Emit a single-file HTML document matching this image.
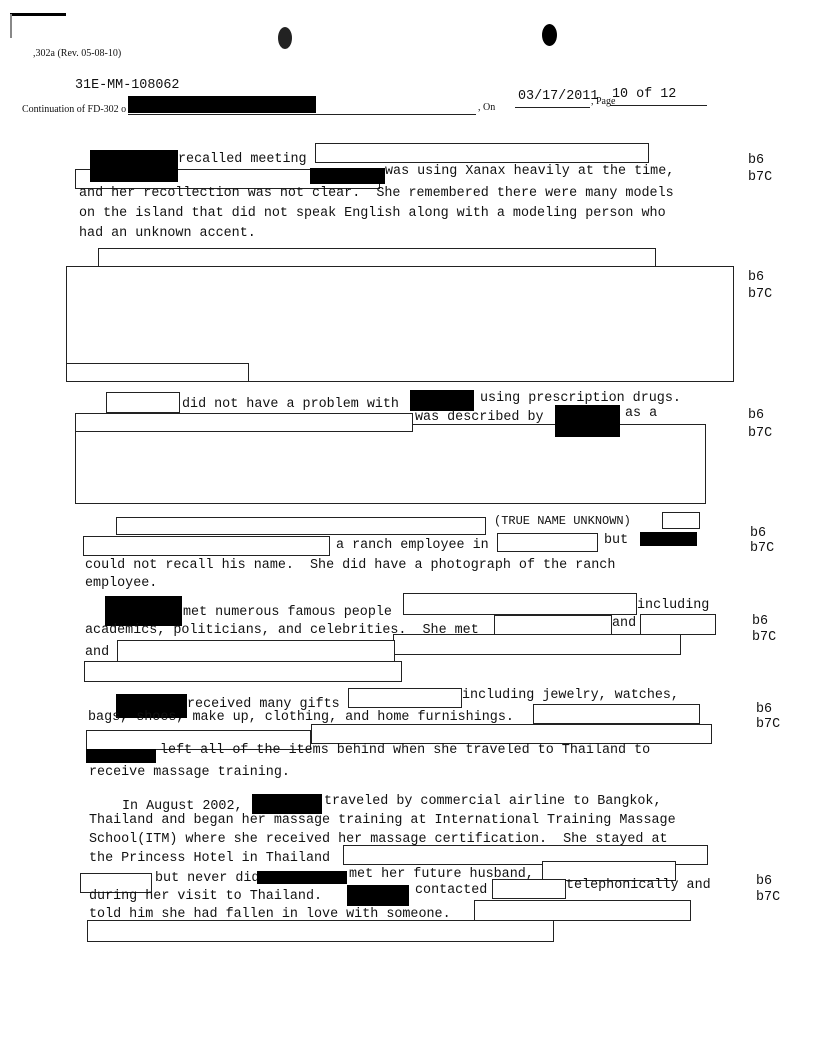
<!DOCTYPE html>
<html><head><meta charset="utf-8"><style>
body{margin:0;width:816px;height:1056px;background:#fff;position:relative;overflow:hidden}
div{position:absolute}
.t{font-family:"Liberation Mono",monospace;font-size:13.4px;line-height:13px;color:#111;white-space:pre}
.s{font-family:"Liberation Serif",serif;font-size:10px;line-height:10px;color:#111;white-space:pre}
.o{border:1.5px solid #222;background:#fff;box-sizing:border-box}
.b{background:#000}
</style></head><body>
<div class="b" style="left:10px;top:13px;width:56px;height:3px"></div>
<div style="left:10px;top:14px;width:2px;height:24px;background:#888"></div>
<div style="left:278px;top:27px;width:14px;height:22px;border-radius:50%;background:#222"></div>
<div style="left:542px;top:24px;width:15px;height:22px;border-radius:50%;background:#000"></div>
<div class="s" style="left:33px;top:49px">,302a (Rev. 05-08-10)</div>
<div class="t" style="left:75px;top:79px">31E-MM-108062</div>
<div class="s" style="left:22px;top:105px">Continuation of FD-302 o</div>
<div class="b" style="left:128px;top:96px;width:188px;height:17px"></div>
<div style="left:128px;top:114px;width:348px;height:1px;background:#222"></div>
<div class="s" style="left:478px;top:103px">, On</div>
<div class="t" style="left:518px;top:90px">03/17/2011</div>
<div style="left:515px;top:107px;width:75px;height:1px;background:#222"></div>
<div class="s" style="left:591px;top:97px">, Page</div>
<div class="t" style="left:612px;top:88px">10 of 12</div>
<div style="left:610px;top:105px;width:97px;height:1px;background:#222"></div>

<div class="t" style="left:178px;top:153px">recalled meeting</div>
<div class="o" style="left:315px;top:143px;width:334px;height:20px"></div>
<div class="o" style="left:75px;top:169px;width:305px;height:20px"></div>
<div class="b" style="left:90px;top:150px;width:88px;height:32px"></div>
<div class="b" style="left:310px;top:168px;width:75px;height:16px"></div>
<div class="t" style="left:385px;top:165px">was using Xanax heavily at the time,</div>
<div class="t" style="left:79px;top:187px">and her recollection was not clear.  She remembered there were many models</div>
<div class="t" style="left:79px;top:207px">on the island that did not speak English along with a modeling person who</div>
<div class="t" style="left:79px;top:227px">had an unknown accent.</div>
<div class="t" style="left:748px;top:154px">b6</div><div class="t" style="left:748px;top:171px">b7C</div>

<div class="o" style="left:98px;top:248px;width:558px;height:19px"></div>
<div class="o" style="left:66px;top:266px;width:668px;height:116px"></div>
<div class="o" style="left:66px;top:363px;width:183px;height:19px"></div>
<div class="t" style="left:748px;top:271px">b6</div><div class="t" style="left:748px;top:288px">b7C</div>

<div class="o" style="left:106px;top:392px;width:74px;height:21px"></div>
<div class="t" style="left:182px;top:398px">did not have a problem with</div>
<div class="b" style="left:410px;top:390px;width:64px;height:21px"></div>
<div class="t" style="left:480px;top:392px">using prescription drugs.</div>
<div class="o" style="left:75px;top:424px;width:631px;height:80px"></div>
<div class="o" style="left:75px;top:413px;width:338px;height:19px"></div>
<div class="t" style="left:415px;top:411px">was described by</div>
<div class="b" style="left:555px;top:405px;width:65px;height:32px"></div>
<div class="t" style="left:625px;top:407px">as a</div>
<div class="t" style="left:748px;top:409px">b6</div><div class="t" style="left:748px;top:427px">b7C</div>

<div class="o" style="left:116px;top:517px;width:370px;height:18px"></div>
<div class="t" style="left:494px;top:515px;font-size:12px">(TRUE NAME UNKNOWN)</div>
<div class="o" style="left:662px;top:512px;width:38px;height:17px"></div>
<div class="o" style="left:83px;top:536px;width:247px;height:20px"></div>
<div class="t" style="left:336px;top:539px">a ranch employee in</div>
<div class="o" style="left:497px;top:533px;width:101px;height:19px"></div>
<div class="t" style="left:604px;top:534px">but</div>
<div class="b" style="left:640px;top:532px;width:57px;height:14px"></div>
<div class="t" style="left:85px;top:559px">could not recall his name.  She did have a photograph of the ranch</div>
<div class="t" style="left:85px;top:577px">employee.</div>
<div class="t" style="left:750px;top:527px">b6</div><div class="t" style="left:750px;top:542px">b7C</div>

<div class="b" style="left:105px;top:596px;width:77px;height:30px"></div>
<div class="t" style="left:183px;top:606px">met numerous famous people</div>
<div class="o" style="left:403px;top:593px;width:234px;height:22px"></div>
<div class="t" style="left:637px;top:599px">including</div>
<div class="t" style="left:85px;top:624px">academics, politicians, and celebrities.  She met</div>
<div class="o" style="left:494px;top:615px;width:118px;height:20px"></div>
<div class="t" style="left:612px;top:617px">and</div>
<div class="o" style="left:640px;top:614px;width:76px;height:21px"></div>
<div class="t" style="left:85px;top:646px">and</div>
<div class="o" style="left:393px;top:634px;width:288px;height:21px"></div>
<div class="o" style="left:117px;top:640px;width:278px;height:22px"></div>
<div class="o" style="left:84px;top:661px;width:318px;height:21px"></div>
<div class="t" style="left:752px;top:615px">b6</div><div class="t" style="left:752px;top:631px">b7C</div>

<div class="b" style="left:116px;top:694px;width:71px;height:24px"></div>
<div class="t" style="left:187px;top:698px">received many gifts</div>
<div class="o" style="left:348px;top:688px;width:114px;height:20px"></div>
<div class="t" style="left:462px;top:689px">including jewelry, watches,</div>
<div class="t" style="left:88px;top:711px">bags, shoes, make up, clothing, and home furnishings.</div>
<div class="o" style="left:533px;top:704px;width:167px;height:20px"></div>
<div class="o" style="left:311px;top:724px;width:401px;height:20px"></div>
<div class="o" style="left:86px;top:730px;width:225px;height:20px"></div>
<div class="b" style="left:86px;top:749px;width:70px;height:14px"></div>
<div class="t" style="left:160px;top:744px">left all of the items behind when she traveled to Thailand to</div>
<div class="t" style="left:89px;top:766px">receive massage training.</div>
<div class="t" style="left:756px;top:703px">b6</div><div class="t" style="left:756px;top:718px">b7C</div>

<div class="t" style="left:122px;top:800px">In August 2002,</div>
<div class="b" style="left:252px;top:794px;width:70px;height:20px"></div>
<div class="t" style="left:324px;top:795px">traveled by commercial airline to Bangkok,</div>
<div class="t" style="left:89px;top:814px">Thailand and began her massage training at International Training Massage</div>
<div class="t" style="left:89px;top:833px">School(ITM) where she received her massage certification.  She stayed at</div>
<div class="t" style="left:89px;top:852px">the Princess Hotel in Thailand</div>
<div class="o" style="left:343px;top:845px;width:365px;height:20px"></div>
<div class="o" style="left:80px;top:873px;width:72px;height:20px"></div>
<div class="t" style="left:155px;top:872px">but never did.</div>
<div class="b" style="left:257px;top:871px;width:90px;height:13px"></div>
<div class="t" style="left:349px;top:868px">met her future husband,</div>
<div class="o" style="left:542px;top:861px;width:134px;height:20px"></div>
<div class="t" style="left:89px;top:890px">during her visit to Thailand.</div>
<div class="b" style="left:347px;top:885px;width:62px;height:21px"></div>
<div class="t" style="left:415px;top:884px">contacted</div>
<div class="o" style="left:492px;top:879px;width:74px;height:20px"></div>
<div class="t" style="left:566px;top:879px">telephonically and</div>
<div class="t" style="left:89px;top:908px">told him she had fallen in love with someone.</div>
<div class="o" style="left:474px;top:900px;width:217px;height:21px"></div>
<div class="o" style="left:87px;top:920px;width:467px;height:22px"></div>
<div class="t" style="left:756px;top:875px">b6</div><div class="t" style="left:756px;top:891px">b7C</div>
</body></html>
